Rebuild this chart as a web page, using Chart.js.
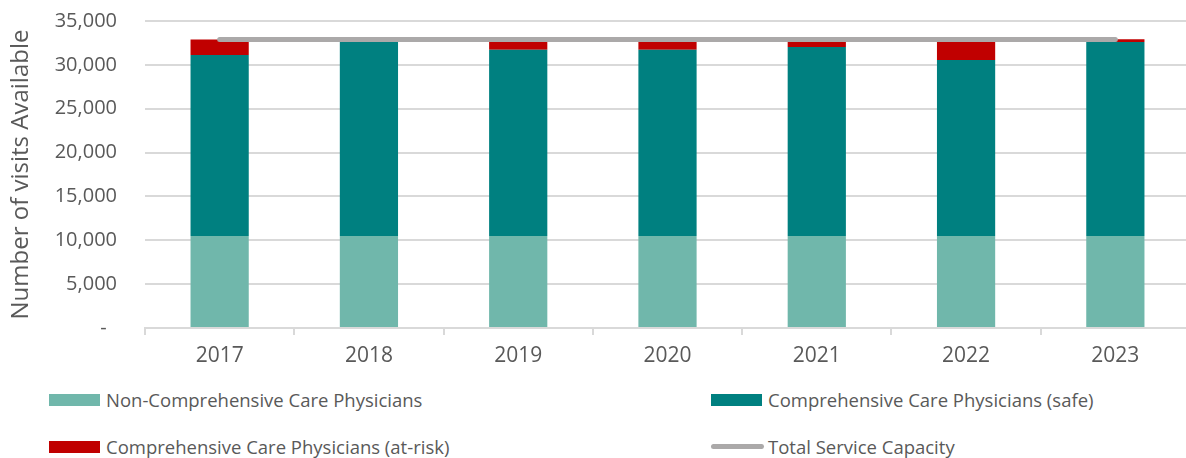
<!DOCTYPE html>
<html>
<head>
<meta charset="utf-8">
<script src="https://cdn.jsdelivr.net/npm/chart.js@4.4.1/dist/chart.umd.min.js"></script>
<style>
  html, body { margin: 0; padding: 0; background: #fff; overflow: hidden; }
  body { width: 1186px; height: 458px; position: relative; font-family: 'Open Sans', sans-serif; }
  #wrap { position: absolute; left: 0; top: -19px; width: 1200px; height: 399px; }
  .leg { position: absolute; font-size: 18.5px; color: #595959; white-space: nowrap; line-height: 22px; }
  .leg .sw { position: absolute; left: 0; top: 5px; width: 51px; height: 12px; }
  .leg .ln { position: absolute; left: 0; top: 8px; width: 53px; height: 5px; border-radius: 3px; }
  .leg span.t { position: absolute; left: 57px; top: 0; }
</style>
</head>
<body>
<div id="wrap"><canvas id="chart"></canvas></div>
<div id="legend"></div>
<script>
const years = ['2017', '2018', '2019', '2020', '2021', '2022', '2023'];
const nonComprehensive = [10500, 10500, 10500, 10500, 10500, 10500, 10500];
const comprehensiveSafe = [20630, 22140, 21230, 21230, 21540, 20060, 22120];
const comprehensiveAtRisk = [1770, 260, 1170, 1170, 860, 2340, 300];
const totalCapacity = [32900, 32900, 32900, 32900, 32900, 32900, 32900];
const yMax = 35000;
const yStep = 5000;

const colors = {
  nonComp: '#70B7AB',
  safe: '#008080',
  atRisk: '#C00000',
  total: '#ABA9A9',
  grid: '#D9D9D9',
  text: '#595959'
};

const ctx = document.getElementById('chart').getContext('2d');
const chart = new Chart(ctx, {
  data: {
    labels: years,
    datasets: [
      {
        type: 'line',
        label: 'Total Service Capacity',
        data: totalCapacity,
        borderColor: colors.total,
        backgroundColor: colors.total,
        borderWidth: 5,
        borderCapStyle: 'round',
        pointRadius: 0,
        fill: false,
        stack: 'line',
        order: 0
      },
      {
        type: 'bar',
        label: 'Non-Comprehensive Care Physicians',
        data: nonComprehensive,
        backgroundColor: colors.nonComp,
        stack: 'bars',
        order: 1
      },
      {
        type: 'bar',
        label: 'Comprehensive Care Physicians (safe)',
        data: comprehensiveSafe,
        backgroundColor: colors.safe,
        stack: 'bars',
        order: 1
      },
      {
        type: 'bar',
        label: 'Comprehensive Care Physicians (at-risk)',
        data: comprehensiveAtRisk,
        backgroundColor: colors.atRisk,
        stack: 'bars',
        order: 1
      }
    ]
  },
  options: {
    responsive: true,
    maintainAspectRatio: false,
    animation: false,
    datasets: { bar: { categoryPercentage: 1, barPercentage: 0.39 } },
    layout: { padding: { top: 2, right: 10, left: 0, bottom: 0 } },
    plugins: {
      legend: { display: false },
      tooltip: { enabled: false }
    },
    scales: {
      x: {
        stacked: true,
        offset: true,
        grid: { offset: true, drawOnChartArea: false, color: colors.grid, lineWidth: 2, tickLength: 7 },
        border: { color: colors.grid, width: 2 },
        ticks: { color: colors.text, font: { family: 'Open Sans', size: 21 }, padding: 8 },
        afterFit: (s) => { s.height = 52; }
      },
      y: {
        stacked: true,
        min: 0,
        max: yMax,
        grid: { color: colors.grid, lineWidth: 2, drawTicks: false },
        border: { display: false },
        ticks: {
          stepSize: yStep,
          color: colors.text,
          padding: 28,
          font: { family: 'Open Sans', size: 20 },
          callback: (v) => v === 0 ? '-  ' : v.toLocaleString('en-US')
        },
        title: {
          display: true,
          text: 'Number of visits Available',
          color: colors.text,
          font: { family: 'Open Sans', size: 24 },
          padding: { top: 7, bottom: 0 }
        },
        afterFit: (s) => { s.width = 145; }
      }
    }
  }
});

// legend in two columns like the original
const legendItems = [
  { label: 'Non-Comprehensive Care Physicians', color: colors.nonComp, kind: 'box', x: 49, y: 389 },
  { label: 'Comprehensive Care Physicians (safe)', color: colors.safe, kind: 'box', x: 711, y: 389 },
  { label: 'Comprehensive Care Physicians (at-risk)', color: colors.atRisk, kind: 'box', x: 49, y: 436 },
  { label: 'Total Service Capacity', color: colors.total, kind: 'line', x: 711, y: 436 }
];
const legendEl = document.getElementById('legend');
legendItems.forEach(item => {
  const d = document.createElement('div');
  d.className = 'leg';
  d.style.left = item.x + 'px';
  d.style.top = item.y + 'px';
  const sw = document.createElement('div');
  sw.className = item.kind === 'line' ? 'ln' : 'sw';
  sw.style.background = item.color;
  const t = document.createElement('span');
  t.className = 't';
  t.textContent = item.label;
  d.appendChild(sw);
  d.appendChild(t);
  legendEl.appendChild(d);
});
</script>
</body>
</html>
